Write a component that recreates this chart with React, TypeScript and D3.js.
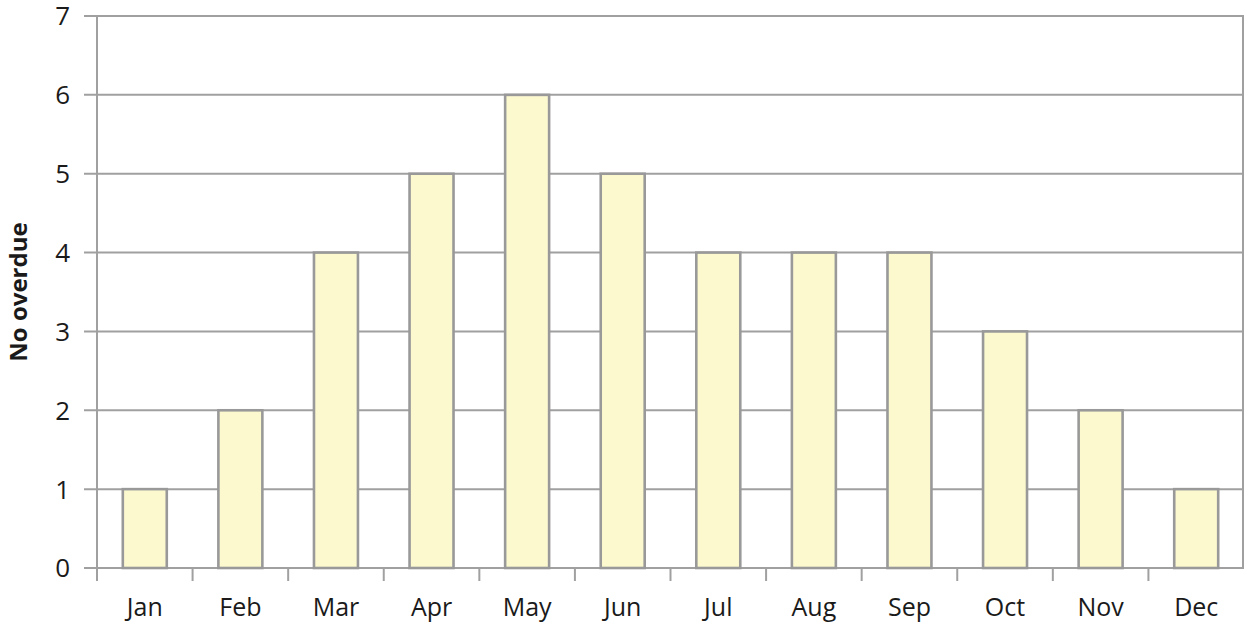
import * as d3 from "d3";
import React, { useEffect, useRef } from "react";

const months = ["Jan", "Feb", "Mar", "Apr", "May", "Jun", "Jul", "Aug", "Sep", "Oct", "Nov", "Dec"];
const overdue = [1, 2, 4, 5, 6, 5, 4, 4, 4, 3, 2, 1];
const yTicks = [0, 1, 2, 3, 4, 5, 6, 7];
const yTitle = "No overdue";

const App: React.FC = () => {
  const svgRef = useRef<SVGSVGElement>(null);

  useEffect(() => {
    const width = 1245, height = 626;
    const margin = { top: 16, right: 1, bottom: 58, left: 97 };
    const svg = d3.select(svgRef.current);
    svg.selectAll("*").remove();
    svg.attr("width", width).attr("height", height);

    const font = "'Open Sans', 'Liberation Sans', sans-serif";
    const grey = "#a0a0a0";

    const x = d3.scaleBand()
      .domain(months)
      .range([margin.left, width - margin.right])
      .paddingInner(0.54)
      .paddingOuter(0.27);

    const y = d3.scaleLinear()
      .domain([0, 7])
      .range([height - margin.bottom, margin.top]);

    // gridlines + left tick marks
    svg.append("g")
      .selectAll("line")
      .data(yTicks)
      .enter()
      .append("line")
      .attr("x1", margin.left - 13)
      .attr("x2", width - margin.right)
      .attr("y1", (d) => y(d))
      .attr("y2", (d) => y(d))
      .attr("stroke", grey)
      .attr("stroke-width", 2);

    // right border
    svg.append("line")
      .attr("x1", width - margin.right - 1)
      .attr("x2", width - margin.right - 1)
      .attr("y1", y(7))
      .attr("y2", y(0))
      .attr("stroke", grey)
      .attr("stroke-width", 2);

    // y axis line
    svg.append("line")
      .attr("x1", margin.left)
      .attr("x2", margin.left)
      .attr("y1", y(7))
      .attr("y2", y(0) + 13)
      .attr("stroke", grey)
      .attr("stroke-width", 2);

    // x tick marks between categories
    const step = x.step();
    svg.append("g")
      .selectAll("line")
      .data(months.slice(1))
      .enter()
      .append("line")
      .attr("x1", (d) => x(d)! - (step - x.bandwidth()) / 2)
      .attr("x2", (d) => x(d)! - (step - x.bandwidth()) / 2)
      .attr("y1", y(0))
      .attr("y2", y(0) + 13)
      .attr("stroke", grey)
      .attr("stroke-width", 2);

    // y tick labels
    svg.append("g")
      .selectAll("text")
      .data(yTicks)
      .enter()
      .append("text")
      .attr("x", 70)
      .attr("y", (d) => y(d))
      .attr("dy", "0.36em")
      .attr("text-anchor", "end")
      .style("font-family", font)
      .style("font-size", "26px")
      .style("fill", "#1a1a1a")
      .text((d) => d);

    // bars
    svg.append("g")
      .selectAll("rect")
      .data(overdue)
      .enter()
      .append("rect")
      .attr("x", (_, i) => x(months[i])!)
      .attr("y", (d) => y(d))
      .attr("width", x.bandwidth())
      .attr("height", (d) => y(0) - y(d))
      .attr("fill", "#fcf9cf")
      .attr("stroke", "#999999")
      .attr("stroke-width", 2.6);

    // x labels
    svg.append("g")
      .selectAll("text")
      .data(months)
      .enter()
      .append("text")
      .attr("x", (d) => x(d)! + x.bandwidth() / 2)
      .attr("y", 616)
      .attr("text-anchor", "middle")
      .style("font-family", font)
      .style("font-size", "25px")
      .style("fill", "#1a1a1a")
      .text((d) => d);

    // y title
    svg.append("text")
      .attr("transform", `translate(27, ${(y(0) + y(7)) / 2}) rotate(-90)`)
      .attr("text-anchor", "middle")
      .style("font-family", font)
      .style("font-size", "24px")
      .style("font-weight", "bold")
      .style("fill", "#1a1a1a")
      .text(yTitle);
  }, []);

  return (
    <div style={{ position: "absolute", left: 0, top: 0 }}>
      <svg ref={svgRef} style={{ display: "block" }} />
    </div>
  );
};

export default App;
